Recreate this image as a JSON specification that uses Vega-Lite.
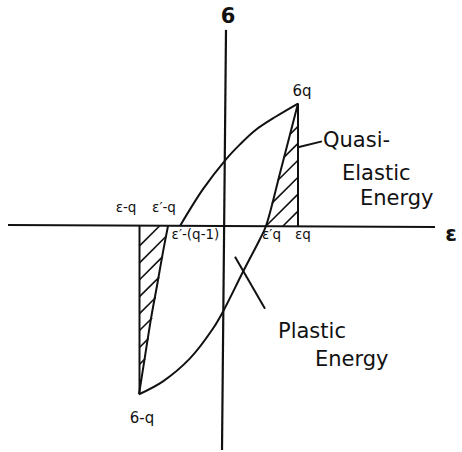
{
  "$schema": "https://vega.github.io/schema/vega-lite/v6.json",
  "width": 462,
  "height": 452,
  "padding": 0,
  "autosize": {"type": "fit", "contains": "padding"},
  "background": "white",
  "config": {"view": {"stroke": null}},
  "datasets": {
    "loop": [
      {"branch": "loading", "step": 1, "strain": -86, "stress": -169},
      {"branch": "loading", "step": 2, "strain": -62, "stress": -156},
      {"branch": "loading", "step": 3, "strain": -35, "stress": -133},
      {"branch": "loading", "step": 4, "strain": -12, "stress": -103},
      {"branch": "loading", "step": 5, "strain": -2, "stress": -86},
      {"branch": "loading", "step": 6, "strain": 18, "stress": -46},
      {"branch": "loading", "step": 7, "strain": 35, "stress": -13},
      {"branch": "loading", "step": 8, "strain": 41, "stress": 0},
      {"branch": "loading", "step": 9, "strain": 56, "stress": 57},
      {"branch": "loading", "step": 10, "strain": 73, "stress": 123},
      {"branch": "unloading", "step": 1, "strain": 73, "stress": 123},
      {"branch": "unloading", "step": 2, "strain": 51, "stress": 110},
      {"branch": "unloading", "step": 3, "strain": 30, "stress": 96},
      {"branch": "unloading", "step": 4, "strain": 15, "stress": 82},
      {"branch": "unloading", "step": 5, "strain": 1, "stress": 67},
      {"branch": "unloading", "step": 6, "strain": -22, "stress": 37},
      {"branch": "unloading", "step": 7, "strain": -45, "stress": 0},
      {"branch": "reversal", "step": 1, "strain": -57, "stress": 0},
      {"branch": "reversal", "step": 2, "strain": -62, "stress": -26},
      {"branch": "reversal", "step": 3, "strain": -68, "stress": -60},
      {"branch": "reversal", "step": 4, "strain": -74, "stress": -93},
      {"branch": "reversal", "step": 5, "strain": -80, "stress": -131},
      {"branch": "reversal", "step": 6, "strain": -86, "stress": -169}
    ],
    "segments": [
      {"kind": "axis", "strain": -217, "stress": 1, "strain2": 210, "stress2": -1},
      {"kind": "axis", "strain": 1, "stress": 197, "strain2": -3, "stress2": -225},
      {"kind": "drop", "strain": -85.5, "stress": 0, "strain2": -85.5, "stress2": -169},
      {"kind": "drop", "strain": 73, "stress": 0, "strain2": 73, "stress2": 123},
      {"kind": "pointer", "strain": 73, "stress": 79, "strain2": 97, "stress2": 85},
      {"kind": "pointer", "strain": 10, "stress": -31, "strain2": 40, "stress2": -83},
      {"kind": "hatch", "strain": -85.5, "stress": -20, "strain2": -65.5, "stress2": 0},
      {"kind": "hatch", "strain": -85.5, "stress": -37, "strain2": -58.8, "stress2": -10.3},
      {"kind": "hatch", "strain": -85.5, "stress": -54, "strain2": -62.3, "stress2": -30.8},
      {"kind": "hatch", "strain": -85.5, "stress": -71, "strain2": -65.8, "stress2": -51.3},
      {"kind": "hatch", "strain": -85.5, "stress": -88, "strain2": -69.3, "stress2": -71.8},
      {"kind": "hatch", "strain": -85.5, "stress": -105, "strain2": -72.9, "stress2": -92.4},
      {"kind": "hatch", "strain": -85.5, "stress": -122, "strain2": -76.4, "stress2": -112.9},
      {"kind": "hatch", "strain": -85.5, "stress": -139, "strain2": -79.9, "stress2": -133.4},
      {"kind": "hatch", "strain": -85.5, "stress": -156, "strain2": -83.4, "stress2": -153.9},
      {"kind": "hatch", "strain": 64.9, "stress": 91.9, "strain2": 73, "stress2": 100},
      {"kind": "hatch", "strain": 58.9, "stress": 68.9, "strain2": 73, "stress2": 83},
      {"kind": "hatch", "strain": 52.9, "stress": 45.9, "strain2": 73, "stress2": 66},
      {"kind": "hatch", "strain": 47, "stress": 23, "strain2": 73, "stress2": 49},
      {"kind": "hatch", "strain": 41, "stress": 0, "strain2": 73, "stress2": 32},
      {"kind": "hatch", "strain": 58, "stress": 0, "strain2": 73, "stress2": 15}
    ],
    "labels": [
      {"group": "symbol", "text": "6", "strain": 3, "stress": 204},
      {"group": "symbol", "text": "ε", "strain": 226, "stress": -15},
      {"group": "peak", "text": "6q", "strain": 77, "stress": 131},
      {"group": "peak", "text": "6-q", "strain": -83, "stress": -198},
      {"group": "point", "text": "ε-q", "strain": -99, "stress": 14},
      {"group": "point", "text": "ε′-q", "strain": -61, "stress": 14},
      {"group": "point", "text": "ε′-(q-1)", "strain": -29.5, "stress": -13},
      {"group": "point", "text": "ε′q", "strain": 46.5, "stress": -13},
      {"group": "point", "text": "εq", "strain": 78, "stress": -13},
      {"group": "note", "text": "Quasi-", "strain": 98, "stress": 79},
      {"group": "note", "text": "Elastic", "strain": 117, "stress": 46},
      {"group": "note", "text": "Energy", "strain": 135, "stress": 21},
      {"group": "note", "text": "Plastic", "strain": 53, "stress": -112},
      {"group": "note", "text": "Energy", "strain": 90, "stress": -141}
    ]
  },
  "encoding": {
    "x": {"field": "strain", "type": "quantitative", "axis": null,
          "scale": {"domain": [-225, 237], "nice": false, "zero": false}},
    "y": {"field": "stress", "type": "quantitative", "axis": null,
          "scale": {"domain": [-225, 227], "nice": false, "zero": false}}
  },
  "layer": [
    {
      "data": {"name": "segments"},
      "transform": [{"filter": "datum.kind === 'axis'"}],
      "mark": {"type": "rule", "color": "#111", "strokeWidth": 2.2},
      "encoding": {"x2": {"field": "strain2"}, "y2": {"field": "stress2"}}
    },
    {
      "data": {"name": "segments"},
      "transform": [{"filter": "datum.kind === 'drop' || datum.kind === 'pointer'"}],
      "mark": {"type": "rule", "color": "#111", "strokeWidth": 2},
      "encoding": {"x2": {"field": "strain2"}, "y2": {"field": "stress2"}}
    },
    {
      "data": {"name": "segments"},
      "transform": [{"filter": "datum.kind === 'hatch'"}],
      "mark": {"type": "rule", "color": "#111", "strokeWidth": 1.6},
      "encoding": {"x2": {"field": "strain2"}, "y2": {"field": "stress2"}}
    },
    {
      "data": {"name": "loop"},
      "mark": {"type": "line", "color": "#111", "strokeWidth": 2, "interpolate": "catmull-rom"},
      "encoding": {
        "detail": {"field": "branch"},
        "order": {"field": "step", "type": "quantitative"}
      }
    },
    {
      "data": {"name": "labels"},
      "transform": [{"filter": "datum.group === 'symbol'"}],
      "mark": {"type": "text", "font": "DejaVu Sans", "fontSize": 21, "fontWeight": "bold",
               "align": "center", "baseline": "alphabetic", "color": "#111"},
      "encoding": {"text": {"field": "text"}}
    },
    {
      "data": {"name": "labels"},
      "transform": [{"filter": "datum.group === 'peak'"}],
      "mark": {"type": "text", "font": "DejaVu Sans", "fontSize": 15,
               "align": "center", "baseline": "alphabetic", "color": "#111"},
      "encoding": {"text": {"field": "text"}}
    },
    {
      "data": {"name": "labels"},
      "transform": [{"filter": "datum.group === 'point'"}],
      "mark": {"type": "text", "font": "DejaVu Sans", "fontSize": 13.5,
               "align": "center", "baseline": "alphabetic", "color": "#111"},
      "encoding": {"text": {"field": "text"}}
    },
    {
      "data": {"name": "labels"},
      "transform": [{"filter": "datum.group === 'note'"}],
      "mark": {"type": "text", "font": "DejaVu Sans", "fontSize": 21,
               "align": "left", "baseline": "alphabetic", "color": "#111"},
      "encoding": {"text": {"field": "text"}}
    }
  ]
}
